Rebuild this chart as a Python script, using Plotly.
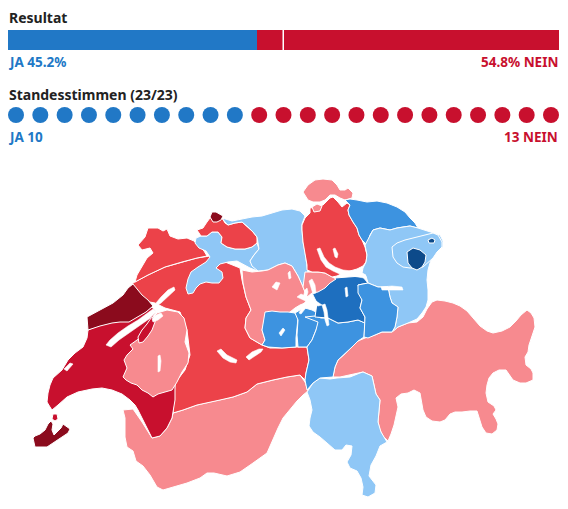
import plotly.graph_objects as go

# ---------------- data ----------------
result_labels = ["JA", "NEIN"]
result_pct = [45.2, 54.8]
states_total = 23
states_ja = 10
states_nein = 13

# canton -> result class (-1 = strongest NEIN ... 8 = strongest JA)
canton_codes = ["VS", "GR", "TI", "BE", "VD", "FR", "VDb", "NE", "GE", "VDc", "JU", "SO", "BL", "BS",
                "AG", "LU", "OW", "NW", "UR", "SZ", "ZG", "ZH", "SH", "SHb", "TG", "SG", "GL", "AR", "AI", "AIb"]
canton_class = [2, 2, 5, 1, 0, 2, 0, -1, -1, 0, 1, 5, 1, -1,
                5, 2, 6, 6, 6, 7, 2, 1, 2, 2, 6, 5, 6, 5, 8, 8]
class_colors = {-1: "#8b0b1d", 0: "#c8102e", 1: "#ec4249", 2: "#f78a8f",
                5: "#8fc7f6", 6: "#3d93e0", 7: "#1e6fbf", 8: "#0d4a8a"}

# geometry (map units)
shapes = {
 "VS": [(123,410),(133,409),(142,422),(152,438),(160,436),(167,428),(172,418),(173,413),(183,410),(197,405),(210,402),(220,400),(233,397),(247,392),(257,384),(273,380),(287,377),(300,375),(305,382),(308,391),(303,395),(297,401),(290,410),(283,418),(278,428),(273,440),(267,453),(253,463),(240,472),(227,476),(214,473),(207,473),(200,478),(187,483),(173,487),(163,490),(157,487),(150,475),(143,466),(136,461),(133,451),(127,447),(125,437),(125,418)],
 "GR": [(333,377),(335,367),(338,360),(345,354),(352,347),(358,341),(365,338),(375,335),(382,332),(392,332),(398,327),(408,323),(417,322),(423,317),(427,309),(432,302),(437,300),(445,301),(453,303),(460,306),(467,311),(473,318),(480,326),(487,331),(493,333),(502,331),(510,327),(516,321),(521,315),(527,310),(531,313),(534,318),(535,327),(532,336),(529,345),(528,352),(525,357),(526,365),(531,369),(533,373),(533,380),(526,383),(520,383),(513,380),(510,376),(506,370),(499,370),(493,373),(489,378),(487,385),(486,393),(488,402),(494,406),(496,410),(493,414),(496,419),(498,424),(497,430),(492,434),(486,433),(482,427),(480,420),(477,411),(470,411),(462,412),(455,412),(450,414),(445,420),(440,422),(432,421),(426,417),(423,410),(421,400),(420,393),(414,390),(408,393),(401,394),(396,398),(398,407),(396,416),(394,425),(391,434),(388,441),(383,436),(380,430),(378,422),(379,410),(380,400),(376,394),(374,385),(372,376),(363,372),(350,375),(340,377)],
 "TI": [(307,392),(313,383),(320,378),(330,379),(337,378),(350,377),(360,373),(363,372),(372,376),(374,385),(376,394),(380,400),(379,410),(378,422),(381,432),(387,442),(380,446),(376,456),(371,465),(369,476),(376,485),(375,493),(368,497),(362,495),(363,487),(361,478),(357,471),(350,468),(347,462),(351,455),(352,446),(346,445),(342,450),(335,450),(327,443),(320,437),(313,432),(309,426),(310,418),(312,410),(310,400)],
 "BE": [(133,283),(148,275),(165,267),(182,262),(197,258),(210,256),(225,262),(240,268),(242,280),(246,297),(251,310),(246,318),(245,328),(250,338),(262,345),(270,348),(282,348),(296,347),(307,347),(309,360),(306,373),(305,380),(300,375),(287,377),(273,380),(257,384),(247,392),(233,397),(220,400),(210,402),(197,405),(183,410),(173,413),(175,383),(185,370),(190,355),(187,330),(180,312),(165,308),(155,303),(140,300),(128,298)],
 "VD": [(88,330),(87,338),(83,347),(75,353),(68,360),(62,370),(53,378),(50,385),(48,393),(47,402),(50,407),(52,410),(58,405),(67,397),(78,392),(92,389),(102,388),(112,390),(122,394),(130,400),(135,405),(138,410),(143,420),(148,430),(152,438),(160,436),(167,428),(172,418),(173,413),(175,400),(175,383),(165,388),(152,385),(145,370),(145,350),(148,335),(150,325),(152,318),(156,312),(152,307),(146,311),(138,316),(129,321),(120,321),(112,322),(100,325)],
 "FR": [(123,377),(127,368),(124,360),(127,355),(133,349),(130,345),(137,340),(145,334),(150,327),(150,320),(157,313),(167,310),(178,312),(184,318),(187,330),(185,342),(189,353),(188,363),(182,372),(177,382),(172,390),(165,392),(158,394),(153,397),(148,393),(142,390),(137,385),(131,383),(126,380)],
 "VDb": [(138,337),(142,330),(147,324),(151,318),(156,316),(155,322),(152,330),(148,336),(143,342),(139,343)],
 "NE": [(87,317),(100,310),(113,303),(123,295),(128,288),(133,284),(137,289),(142,295),(148,300),(153,306),(146,312),(138,317),(129,322),(120,322),(112,323),(100,326),(88,330)],
 "GE": [(33,438),(35,447),(47,447),(53,443),(58,440),(63,437),(68,433),(70,429),(66,426),(63,424),(61,428),(57,432),(54,435),(52,430),(53,424),(51,421),(48,424),(45,430),(40,434),(35,436)],
 "VDc": [(53,414),(57,414),(58,419),(55,421),(52,419)],
 "JU": [(148,228),(158,228),(163,231),(167,229),(170,236),(178,239),(187,238),(194,241),(199,246),(204,251),(207,256),(197,258),(182,262),(165,267),(148,275),(135,282),(137,275),(142,267),(147,258),(153,253),(150,248),(142,250),(138,245),(145,237)],
 "SO": [(188,279),(191,272),(198,267),(206,262),(210,257),(206,251),(199,248),(195,243),(196,238),(201,236),(207,236),(212,232),(218,232),(222,237),(221,243),(227,247),(235,249),(245,249),(252,247),(257,243),(259,249),(254,255),(250,261),(253,266),(258,264),(263,266),(267,271),(260,272),(250,268),(243,264),(237,261),(228,262),(220,264),(216,268),(222,272),(223,278),(219,283),(212,283),(206,282),(200,284),(196,288),(193,293),(188,294),(186,288)],
 "BL": [(197,230),(203,228),(207,222),(210,218),(222,218),(225,223),(228,225),(235,223),(242,222),(248,227),(253,232),(257,237),(257,243),(252,247),(245,249),(235,249),(227,247),(221,243),(222,237),(218,232),(212,232),(207,236),(201,236)],
 "BS": [(210,217),(212,212),(216,212),(219,214),(223,216),(221,220),(217,222),(213,222)],
 "AG": [(222,218),(232,221),(242,219),(252,217),(262,216),(272,213),(282,210),(292,209),(300,211),(305,216),(302,224),(302,230),(303,242),(305,252),(307,265),(308,273),(304,282),(303,287),(298,276),(292,266),(285,263),(278,265),(268,270),(258,271),(252,266),(250,261),(254,255),(259,249),(257,237),(253,232),(248,227),(242,222),(235,223),(228,225),(225,222)],
 "LU": [(242,270),(252,272),(262,271),(268,270),(278,265),(285,263),(292,266),(298,276),(303,287),(305,292),(308,297),(305,303),(300,305),(295,308),(290,312),(285,315),(278,313),(270,312),(265,318),(262,330),(265,340),(262,345),(250,338),(245,328),(246,318),(251,310),(246,297),(243,283)],
 "OW": [(265,312),(272,311),(280,312),(288,312),(295,313),(298,318),(297,328),(296,338),(296,347),(282,348),(268,347),(262,345),(265,340),(262,330)],
 "NW": [(295,313),(300,310),(305,308),(312,310),(318,313),(320,320),(316,330),(312,340),(307,347),(298,347),(297,335),(298,320)],
 "UR": [(305,317),(315,316),(321,318),(328,318),(338,323),(348,322),(358,320),(365,323),(364,337),(358,341),(352,347),(345,354),(338,360),(335,367),(333,377),(320,378),(313,383),(307,390),(305,380),(306,373),(309,360),(307,347),(312,340),(316,330),(318,322)],
 "SZ": [(322,280),(335,278),(348,277),(362,276),(368,283),(358,285),(362,300),(360,308),(365,317),(365,323),(358,320),(348,322),(338,323),(328,318),(315,317),(317,303),(312,293),(315,287)],
 "ZG": [(305,272),(312,272),(318,272),(325,273),(332,277),(336,279),(330,283),(325,288),(318,292),(312,293),(307,297),(303,287)],
 "ZH": [(302,225),(305,218),(310,213),(310,208),(317,207),(323,205),(330,198),(333,197),(338,202),(342,207),(347,203),(350,205),(348,210),(349,215),(353,222),(357,228),(359,235),(362,240),(365,247),(367,255),(366,262),(363,266),(357,269),(350,271),(343,273),(337,276),(332,277),(325,273),(318,272),(312,272),(307,270),(307,265),(305,252),(303,242),(302,230)],
 "SH": [(303,192),(308,185),(315,180),(323,179),(332,180),(337,185),(340,190),(345,190),(348,188),(353,193),(352,198),(345,200),(340,198),(335,195),(330,195),(325,200),(320,202),(313,202),(308,200)],
 "SHb": [(312,207),(317,204),(322,206),(320,211),(314,212)],
 "TG": [(345,200),(350,199),(357,200),(367,202),(377,201),(387,203),(397,207),(405,212),(410,218),(415,223),(418,228),(410,226),(403,227),(397,228),(390,230),(380,228),(373,230),(370,235),(367,245),(362,240),(359,235),(357,228),(353,222),(349,215),(348,210),(350,205)],
 "SG": [(365,245),(370,235),(373,230),(380,228),(390,230),(397,228),(403,227),(410,226),(418,228),(427,231),(433,233),(440,235),(443,241),(443,247),(437,251),(433,256),(430,263),(428,270),(427,280),(428,290),(428,300),(426,307),(422,313),(417,319),(408,323),(398,327),(392,332),(395,327),(397,317),(398,307),(392,303),(390,297),(388,287),(378,287),(368,283),(366,276),(362,273),(363,268),(366,262),(367,255)],
 "GL": [(358,285),(368,283),(378,287),(388,287),(390,297),(392,303),(398,307),(397,317),(395,327),(392,332),(382,332),(375,335),(368,338),(364,337),(365,325),(365,317),(360,308),(362,300),(358,293)],
 "AR": [(392,247),(397,243),(405,240),(413,238),(420,237),(427,235),(433,233),(438,235),(442,242),(442,247),(437,252),(433,258),(428,263),(423,267),(417,268),(410,268),(403,267),(397,263),(393,257)],
 "AI": [(407,252),(413,248),(420,250),(426,255),(425,262),(422,267),(417,270),(412,268),(408,263)],
 "AIb": [(428,240),(432,238),(435,240),(434,243),(429,243)],
}

lakes = [
 [(106,345),(110,340),(118,333),(128,326),(138,320),(148,313),(153,309),(156,312),(149,319),(139,326),(129,333),(119,340),(111,347)],
 [(156,303),(161,297),(168,290),(174,287),(175,290),(168,297),(161,303),(158,305)],
 [(152,319),(156,315),(161,313),(163,316),(158,320),(153,322)],
 [(64,369),(70,363),(73,364),(67,371)],
 [(158,356),(160,355),(161,361),(160,371),(158,372),(158,362)],
 [(217,351),(221,349),(227,355),(233,358),(237,360),(236,363),(230,362),(223,358)],
 [(246,357),(252,352),(259,349),(263,349),(261,352),(255,356),(249,360)],
 [(297,297),(303,300),(310,303),(318,306),(322,305),(316,301),(309,298),(301,294)],
 [(322,305),(324,312),(325,320),(327,326),(329,325),(328,318),(327,310),(325,304)],
 [(305,302),(302,308),(299,313),(301,314),(305,309),(308,304)],
 [(303,298),(305,290),(307,288),(308,292),(306,299)],
 [(309,281),(312,279),(315,285),(316,293),(313,294),(311,287)],
 [(272,287),(276,282),(280,283),(277,290)],
 [(288,273),(290,271),(291,278),(289,279)],
 [(279,333),(283,328),(285,330),(281,336)],
 [(317,249),(320,248),(324,257),(329,263),(335,267),(343,270),(352,271),(362,273),(366,275),(364,278),(352,276),(342,275),(333,271),(326,267),(321,260)],
 [(333,249),(335,248),(338,254),(337,258),(335,257)],
 [(381,287),(392,286),(402,287),(403,290),(392,290),(382,290)],
 [(345,288),(347,287),(348,296),(346,297)],
]

BLUE = "#2178c6"
RED = "#c8102e"
W, H = 568, 509

fig = go.Figure()

# --- result bar ---
bar_colors = [BLUE, RED]
for lab, val, col in zip(result_labels, result_pct, bar_colors):
    fig.add_trace(go.Bar(x=[val], y=[0], orientation="h", marker=dict(color=col, line=dict(width=0)),
                         width=1, xaxis="x2", yaxis="y2", showlegend=False, hoverinfo="skip", name=lab))

# --- state dots ---
dot_x = list(range(states_total))
dot_colors = [BLUE] * states_ja + [RED] * states_nein
fig.add_trace(go.Scatter(x=dot_x, y=[0] * states_total, mode="markers",
                         marker=dict(size=16, color=dot_colors, line=dict(width=0)),
                         xaxis="x3", yaxis="y3", showlegend=False, hoverinfo="skip"))

# --- map ---
for code, cls in zip(canton_codes, canton_class):
    pts = shapes[code]
    xs = [p[0] for p in pts] + [pts[0][0]]
    ys = [p[1] for p in pts] + [pts[0][1]]
    fig.add_trace(go.Scatter(x=xs, y=ys, mode="lines", fill="toself",
                             fillcolor=class_colors[cls], line=dict(color="white", width=1),
                             showlegend=False, hoverinfo="skip", name=code))
for lk in lakes:
    xs = [p[0] for p in lk] + [lk[0][0]]
    ys = [p[1] for p in lk] + [lk[0][1]]
    fig.add_trace(go.Scatter(x=xs, y=ys, mode="lines", fill="toself", fillcolor="white",
                             line=dict(color="white", width=0.6), showlegend=False, hoverinfo="skip"))

def py(px):
    return 1 - px / H

font_fam = "Noto Sans, Open Sans, sans-serif"
annos = [
    dict(text="<b>Resultat</b>", x=7 / W, y=py(17.5), xanchor="left", color="#222222", size=14),
    dict(text=f"<b>{result_labels[0]} {result_pct[0]}%</b>", x=7 / W, y=py(62), xanchor="left", color=BLUE, size=13.5),
    dict(text=f"<b>{result_pct[1]}% {result_labels[1]}</b>", x=560 / W, y=py(62), xanchor="right", color=RED, size=13.5),
    dict(text=f"<b>Standesstimmen ({states_total}/{states_total})</b>", x=7 / W, y=py(95), xanchor="left", color="#222222", size=14),
    dict(text=f"<b>{result_labels[0]} {states_ja}</b>", x=7 / W, y=py(137), xanchor="left", color=BLUE, size=13.5),
    dict(text=f"<b>{states_nein} {result_labels[1]}</b>", x=560 / W, y=py(137), xanchor="right", color=RED, size=13.5),
]
annotations = []
for a in annos:
    annotations.append(dict(text=a["text"], x=a["x"], y=a["y"], xref="paper", yref="paper",
                            xanchor=a["xanchor"], yanchor="middle", showarrow=False,
                            font=dict(family=font_fam, size=a["size"], color=a["color"])))

fig.update_layout(
    width=W, height=H, margin=dict(l=0, r=0, t=0, b=0),
    paper_bgcolor="white", plot_bgcolor="white", barmode="stack",
    xaxis=dict(domain=[0, 1], range=[0, W], visible=False, fixedrange=True),
    yaxis=dict(domain=[0, 1], range=[H, 0], visible=False, fixedrange=True),
    xaxis2=dict(domain=[7.5 / W, 559 / W], range=[0, 100], visible=False, anchor="y2"),
    yaxis2=dict(domain=[py(50), py(30)], range=[-0.5, 0.5], visible=False, anchor="x2"),
    xaxis3=dict(domain=[0, 1], range=[-16 / 24.318, (W - 16) / 24.318], visible=False, anchor="y3"),
    yaxis3=dict(domain=[py(125), py(105)], range=[-1, 1], visible=False, anchor="x3"),
    shapes=[dict(type="line", xref="x2", yref="y2 domain", x0=50, x1=50, y0=0, y1=1,
                 line=dict(color="white", width=1.5))],
    annotations=annotations,
)

fig.write_html("out.html", config={"displayModeBar": False},
               post_script="document.body.style.margin='0';document.body.style.padding='0';")
